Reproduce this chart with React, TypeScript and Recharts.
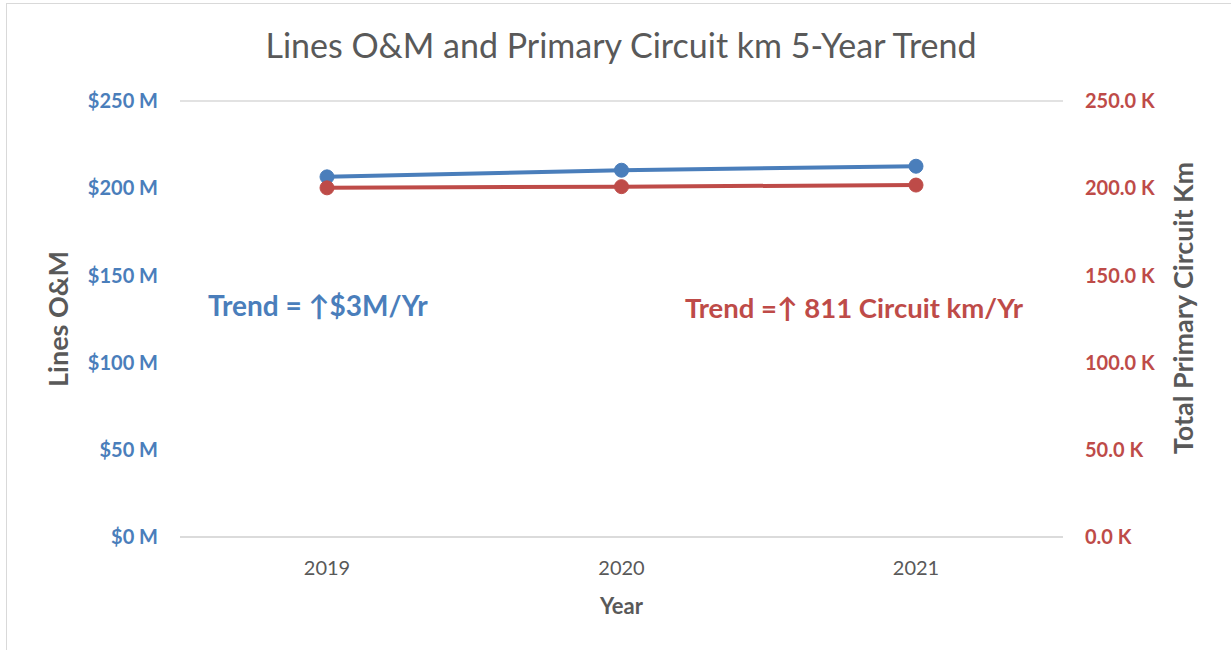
import React from "react";
import {
  LineChart,
  Line,
  XAxis,
  YAxis,
  CartesianGrid,
  Label,
} from "recharts";

// Values read off the reference picture
const years = ["2019", "2020", "2021"];
const linesOM = [206.5, 210.3, 212.6]; // $ M
const circuitKm = [200.2, 200.9, 201.8]; // K km
const omTicks = [0, 50, 100, 150, 200, 250];
const kmTicks = [0, 50, 100, 150, 200, 250];

const BLUE = "#4a7ebb";
const RED = "#be4b48";
const GREY = "#595959";
const FONT = "Lato, 'Open Sans', sans-serif";

const data = years.map((y, i) => ({
  year: y,
  om: linesOM[i],
  km: circuitKm[i],
}));

export default function App() {
  return (
    <div
      style={{
        position: "absolute",
        left: 0,
        top: 0,
        width: 1231,
        height: 650,
        background: "#fff",
        fontFamily: FONT,
        overflow: "hidden",
      }}
    >
      <div
        style={{
          position: "absolute",
          left: 6,
          top: 3,
          width: 1240,
          height: 660,
          border: "1.5px solid #d9d9d9",
        }}
      />
      <div
        style={{
          position: "absolute",
          top: 24,
          left: 0,
          width: 1242,
          textAlign: "center",
          fontSize: 34,
          color: GREY,
        }}
      >
        Lines O&amp;M and Primary Circuit km 5-Year Trend
      </div>
      <LineChart
        width={1231}
        height={650}
        data={data}
        margin={{ top: 101, right: 60, left: 70, bottom: 30 }}
        style={{ position: "absolute", left: 0, top: 0, fontFamily: FONT }}
      >
        <CartesianGrid vertical={false} stroke="#d9d9d9" strokeWidth={1.5} />
        <XAxis
          dataKey="year"
          padding={{ left: 147, right: 147 }}
          axisLine={{ stroke: "#d9d9d9", strokeWidth: 1.5 }}
          tickLine={false}
          tick={{ fill: GREY, fontSize: 20 }}
          tickMargin={18}
          height={83}
        >
          <Label
            value="Year"
            position="insideBottom"
            offset={6}
            style={{ fill: GREY, fontSize: 22, fontWeight: 700 }}
          />
        </XAxis>
        <YAxis
          yAxisId="om"
          domain={[0, 250]}
          ticks={omTicks}
          axisLine={false}
          tickLine={false}
          width={110}
          tickMargin={16}
          tickFormatter={(v: number) => `$${v} M`}
          tick={{ fill: BLUE, fontSize: 20, fontWeight: 700 }}
        >
          <Label
            value="Lines O&M"
            angle={-90}
            position="insideLeft"
            offset={-12}
            style={{ fill: GREY, fontSize: 27, fontWeight: 700, textAnchor: "middle" }}
          />
        </YAxis>
        <YAxis
          yAxisId="km"
          orientation="right"
          domain={[0, 250]}
          ticks={kmTicks}
          axisLine={false}
          tickLine={false}
          width={108}
          tickMargin={16}
          tickFormatter={(v: number) => `${v.toFixed(1)} K`}
          tick={{ fill: RED, fontSize: 20, fontWeight: 700 }}
        >
          <Label
            value="Total Primary Circuit Km"
            angle={-90}
            position="insideRight"
            offset={-12}
            dy={-11}
            style={{ fill: GREY, fontSize: 27, fontWeight: 700, textAnchor: "middle" }}
          />
        </YAxis>
        <Line
          yAxisId="om"
          dataKey="om"
          stroke={BLUE}
          strokeWidth={4}
          dot={{ r: 7, fill: BLUE, stroke: BLUE, strokeWidth: 1 }}
          isAnimationActive={false}
        />
        <Line
          yAxisId="km"
          dataKey="km"
          stroke={RED}
          strokeWidth={4}
          dot={{ r: 7, fill: RED, stroke: RED, strokeWidth: 1 }}
          isAnimationActive={false}
        />
      </LineChart>
      <div
        style={{
          position: "absolute",
          left: 208,
          top: 288,
          fontSize: 28,
          fontWeight: 700,
          color: BLUE,
          whiteSpace: "nowrap",
        }}
      >
        Trend = ↑$3M/Yr
      </div>
      <div
        style={{
          position: "absolute",
          left: 685,
          top: 291,
          fontSize: 27.5,
          fontWeight: 700,
          color: RED,
          whiteSpace: "nowrap",
        }}
      >
        Trend =↑ 811 Circuit km/Yr
      </div>
    </div>
  );
}
